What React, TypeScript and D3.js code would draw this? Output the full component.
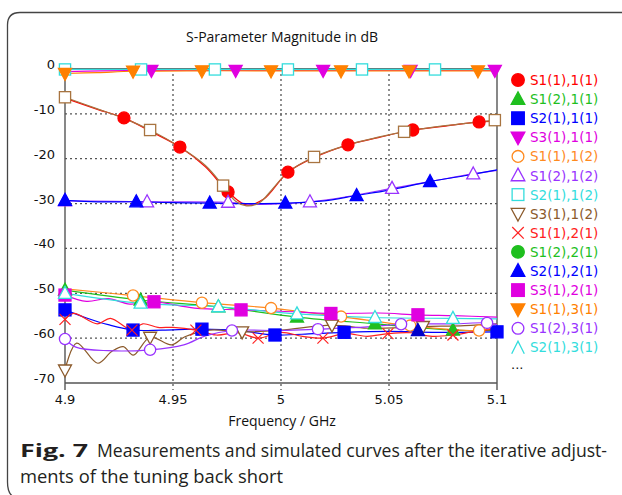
import React from "react";
import * as d3 from "d3";

// ---------- data ----------
const xTicks = [4.9, 4.95, 5, 5.05, 5.1];
const xTickLabels = ["4.9", "4.95", "5", "5.05", "5.1"];
const yTicks = [0, -10, -20, -30, -40, -50, -60, -70];
const yTickLabels = ["0", "-10", "-20", "-30", "-40", "-50", "-60", "-70"];

// S1(1),1(1) red filled circles
const s1111F = [4.9, 4.915, 4.9273, 4.94, 4.9532, 4.965, 4.9755, 4.984, 4.992, 5.0032, 5.015, 5.031, 5.045, 5.061, 5.075, 5.0917, 5.1];
const s1111V = [-6.5, -9.0, -10.9, -14.0, -17.4, -21.8, -27.4, -30.3, -29.0, -23.0, -19.8, -16.9, -15.3, -13.6, -12.8, -11.8, -11.6];
const s1111M = [4.9273, 4.9532, 4.9755, 5.0032, 5.031, 5.061, 5.0917];

// S1(2),1(1) green filled up-triangles
const s1211F = [4.9, 4.935, 4.971, 5.0074, 5.0435, 5.0796, 5.1];
const s1211V = [-49.3, -51.5, -53.0, -55.3, -56.8, -58.2, -58.3];
const s1211M = [4.9, 4.935, 4.971, 5.0074, 5.0435, 5.0796];

// S2(1),1(1) blue filled squares
const s2111F = [4.9, 4.91, 4.92, 4.9315, 4.945, 4.9634, 4.98, 4.9972, 5.015, 5.0292, 5.05, 5.07, 5.085, 5.1];
const s2111V = [-53.7, -55.5, -57.0, -58.2, -58.2, -58.0, -58.3, -59.3, -59.0, -58.7, -58.5, -58.7, -58.7, -58.6];
const s2111M = [4.9, 4.9315, 4.9634, 4.9972, 5.0292, 5.1];

// S3(1),1(1) magenta filled down-triangles
const s3111F = [4.9, 4.917, 4.94, 4.979, 5.0195, 5.06, 5.099];
const s3111V = [-0.6, -0.4, -0.3, -0.3, -0.3, -0.3, -0.3];
const s3111M = [4.94, 4.979, 5.0195, 5.06, 5.099];

// S1(1),1(2) orange open circles
const s1112F = [4.9, 4.9315, 4.9634, 4.9954, 5.0278, 5.0598, 5.0917, 5.1];
const s1112V = [-49.0, -50.5, -52.1, -53.3, -55.2, -57.2, -58.3, -57.4];
const s1112M = [4.9315, 4.9634, 4.9954, 5.0278, 5.0598, 5.0917];

// S1(2),1(2) purple open up-triangles
const s1212F = [4.9, 4.938, 4.9755, 4.99, 5.0134, 5.03, 5.0514, 5.07, 5.089, 5.1];
const s1212V = [-29.4, -29.6, -29.7, -30.2, -29.6, -28.5, -26.6, -25.0, -23.4, -22.6];
const s1212M = [4.9, 4.938, 4.9755, 5.0134, 5.0514, 5.089];

// S2(1),1(2) cyan open squares
const s2112F = [4.9, 4.9352, 4.9694, 5.0032, 5.0375, 5.0713, 5.1];
const s2112V = [-0.1, -0.1, -0.1, -0.1, -0.1, -0.1, -0.1];
const s2112M = [4.9, 4.9352, 4.9694, 5.0032, 5.0375, 5.0713];

// S3(1),1(2) brown open down-triangles
const s3112F = [4.9, 4.9054, 4.9152, 4.9216, 4.927, 4.9316, 4.9394, 4.9494, 4.9555, 4.9671, 4.982, 5.0, 5.0236, 5.04, 5.0657, 5.085, 5.1];
const s3112V = [-67.1, -61.1, -65.6, -63.0, -61.9, -63.8, -59.8, -61.5, -59.7, -58.2, -58.6, -58.2, -57.1, -57.8, -57.4, -57.2, -56.8];
const s3112M = [4.9, 4.9394, 4.982, 5.0236, 5.0657];

// S1(1),2(1) red crosses
const s1121F = [4.9, 4.904, 4.915, 4.921, 4.931, 4.936, 4.943, 4.95, 4.9606, 4.97, 4.98, 4.9894, 5.0, 5.01, 5.0194, 5.03, 5.04, 5.0495, 5.06, 5.07, 5.0796, 5.09, 5.1];
const s1121V = [-55.8, -54.5, -56.8, -55.6, -58.2, -56.8, -57.6, -57.6, -58.2, -59.3, -58.8, -60.0, -58.7, -59.6, -60.0, -59.0, -59.6, -59.0, -58.8, -59.6, -59.3, -58.5, -58.0];
const s1121M = [4.9, 4.931, 4.9606, 4.9894, 5.0194, 5.0495, 5.0796];

// S1(2),2(1) green filled circles (hidden behind other traces)
const s1221F: number[] = [];
const s1221V: number[] = [];
const s1221M: number[] = [];

// S2(1),2(1) blue filled up-triangles
const s2121F = [4.9, 4.915, 4.933, 4.95, 4.967, 4.985, 5.002, 5.02, 5.035, 5.05, 5.069, 5.085, 5.1];
const s2121V = [-29.3, -29.6, -29.6, -29.8, -29.9, -30.0, -29.9, -29.4, -28.2, -27.0, -25.1, -23.8, -22.5];
const s2121M = [4.9, 4.933, 4.967, 5.002, 5.035, 5.069];

// S3(1),2(1) magenta filled squares
const s3121F = [4.9, 4.91, 4.92, 4.93, 4.9412, 4.96, 4.9815, 5.0, 5.0231, 5.045, 5.0634, 5.08, 5.1];
const s3121V = [-50.4, -51.8, -51.2, -52.4, -51.9, -53.3, -53.7, -54.0, -54.5, -54.4, -54.8, -55.0, -55.3];
const s3121M = [4.9, 4.9412, 4.9815, 5.0231, 5.0634];

// S1(1),3(1) orange filled down-triangles
const s1131F = [4.9, 4.915, 4.9315, 4.9634, 4.9954, 5.0278, 5.0593, 5.0912, 5.1];
const s1131V = [-1.0, -0.8, -0.5, -0.4, -0.4, -0.4, -0.4, -0.4, -0.4];
const s1131M = [4.9, 4.9315, 4.9634, 4.9954, 5.0278, 5.0593, 5.0912];

// S1(2),3(1) purple open circles
const s1231F = [4.9, 4.905, 4.92, 4.9394, 4.955, 4.965, 4.9773, 5.0, 5.0171, 5.04, 5.0556, 5.08, 5.0954, 5.1];
const s1231V = [-60.2, -62.0, -62.8, -62.6, -61.5, -59.5, -58.3, -58.3, -58.0, -57.5, -56.9, -56.8, -56.6, -57.0];
const s1231M = [4.9, 4.9394, 4.9773, 5.0171, 5.0556, 5.0954];

// S2(1),3(1) cyan open up-triangles
const s2131F = [4.9, 4.935, 4.971, 5.0074, 5.0435, 5.0796, 5.1];
const s2131V = [-50.0, -52.2, -53.0, -54.6, -55.4, -55.6, -55.7];
const s2131M = [4.9, 4.935, 4.971, 5.0074, 5.0435, 5.0796];

// further traces (beyond "..." in legend)
const extraBrownF = [4.9, 4.915, 4.9273, 4.9394, 4.9532, 4.965, 4.9732, 4.979, 4.984, 4.99, 4.996, 5.0032, 5.0153, 5.031, 5.045, 5.057, 5.075, 5.0917, 5.099];
const extraBrownV = [-6.3, -8.9, -11.0, -13.6, -17.4, -21.5, -26.0, -29.5, -30.5, -29.8, -26.8, -23.0, -19.6, -16.9, -15.2, -14.0, -12.7, -11.8, -11.4];
const extraBrownM = [4.9, 4.9394, 4.9732, 5.0153, 5.057, 5.099];

const extraNavyF = [5.0634];
const extraNavyV = [-58.3];
const extraNavyM = [5.0634];

type Shape = "circle" | "triUp" | "square" | "triDown" | "cross" | "caret";
interface Series {
  name: string;
  color: string;
  shape: Shape;
  filled: boolean;
  f: number[];
  v: number[];
  m: number[];
  legend: boolean;
  line: boolean;
}

const series: Series[] = [
  { name: "S1(1),1(1)", color: "#ff0000", shape: "circle", filled: true, f: s1111F, v: s1111V, m: s1111M, legend: true, line: true },
  { name: "S1(2),1(1)", color: "#1fbf1f", shape: "triUp", filled: true, f: s1211F, v: s1211V, m: s1211M, legend: true, line: true },
  { name: "S2(1),1(1)", color: "#0000ff", shape: "square", filled: true, f: s2111F, v: s2111V, m: s2111M, legend: true, line: true },
  { name: "S3(1),1(1)", color: "#e000e0", shape: "triDown", filled: true, f: s3111F, v: s3111V, m: s3111M, legend: true, line: true },
  { name: "S1(1),1(2)", color: "#ff8a1f", shape: "circle", filled: false, f: s1112F, v: s1112V, m: s1112M, legend: true, line: true },
  { name: "S1(2),1(2)", color: "#9933ff", shape: "triUp", filled: false, f: s1212F, v: s1212V, m: s1212M, legend: true, line: true },
  { name: "S2(1),1(2)", color: "#33dddd", shape: "square", filled: false, f: s2112F, v: s2112V, m: s2112M, legend: true, line: true },
  { name: "S3(1),1(2)", color: "#8b5a2b", shape: "triDown", filled: false, f: s3112F, v: s3112V, m: s3112M, legend: true, line: true },
  { name: "S1(1),2(1)", color: "#ff2020", shape: "cross", filled: false, f: s1121F, v: s1121V, m: s1121M, legend: true, line: true },
  { name: "S1(2),2(1)", color: "#1fbf1f", shape: "circle", filled: true, f: s1221F, v: s1221V, m: s1221M, legend: true, line: true },
  { name: "S2(1),2(1)", color: "#0000ff", shape: "triUp", filled: true, f: s2121F, v: s2121V, m: s2121M, legend: true, line: true },
  { name: "S3(1),2(1)", color: "#e000e0", shape: "square", filled: true, f: s3121F, v: s3121V, m: s3121M, legend: true, line: true },
  { name: "S1(1),3(1)", color: "#ff8000", shape: "triDown", filled: true, f: s1131F, v: s1131V, m: s1131M, legend: true, line: true },
  { name: "S1(2),3(1)", color: "#9933ff", shape: "circle", filled: false, f: s1231F, v: s1231V, m: s1231M, legend: true, line: true },
  { name: "S2(1),3(1)", color: "#33dddd", shape: "triUp", filled: false, f: s2131F, v: s2131V, m: s2131M, legend: true, line: true },
  { name: "extra1", color: "#a87440", shape: "square", filled: false, f: extraBrownF, v: extraBrownV, m: extraBrownM, legend: false, line: true },
  { name: "extra2", color: "#0000cc", shape: "triUp", filled: true, f: extraNavyF, v: extraNavyV, m: extraNavyM, legend: false, line: false },
];

// ---------- layout ----------
const W = 622;
const H = 495;
const PL = 65, PR = 497, PT = 69, PB = 383;

function Marker({ shape, x, y, color, filled, s = 1 }: { shape: Shape; x: number; y: number; color: string; filled: boolean; s?: number }) {
  const fill = filled ? color : "#ffffff";
  const sw = 1.3;
  switch (shape) {
    case "circle":
      return <circle cx={x} cy={y} r={(filled ? 6 : 5.6) * s} fill={fill} stroke={color} strokeWidth={sw} />;
    case "square": {
      const h = (filled ? 6 : 5.6) * s;
      return <rect x={x - h} y={y - h} width={2 * h} height={2 * h} fill={fill} stroke={color} strokeWidth={sw} />;
    }
    case "triUp": {
      const a = 6.5 * s, t = 7 * s, b = 5 * s;
      return <polygon points={`${x},${y - t} ${x + a},${y + b} ${x - a},${y + b}`} fill={fill} stroke={color} strokeWidth={sw} />;
    }
    case "triDown": {
      const a = 6.5 * s, t = 7 * s, b = 5 * s;
      return <polygon points={`${x},${y + t} ${x + a},${y - b} ${x - a},${y - b}`} fill={fill} stroke={color} strokeWidth={sw} />;
    }
    case "cross": {
      const c = 5.5 * s;
      return (
        <g stroke={color} strokeWidth={1.2}>
          <line x1={x - c} y1={y - c} x2={x + c} y2={y + c} />
          <line x1={x - c} y1={y + c} x2={x + c} y2={y - c} />
        </g>
      );
    }
    case "caret": {
      const c = 6 * s;
      return <polyline points={`${x - c},${y + c} ${x},${y - c} ${x + c},${y + c}`} fill="none" stroke={color} strokeWidth={sw} />;
    }
  }
  return null;
}

export default function App() {
  const x = d3.scaleLinear().domain([4.9, 5.1]).range([PL, PR]);
  const y = d3.scaleLinear().domain([-70, 0]).range([PB, PT]);
  const lineGen = d3
    .line<[number, number]>()
    .x((d) => x(d[0]))
    .y((d) => y(d[1]))
    .curve(d3.curveCatmullRom.alpha(0.5));

  const gridColor = "#555";
  const tickFont = "'DejaVu Sans', Verdana, sans-serif";
  const uiFont = "'Open Sans', 'Noto Sans', sans-serif";

  const legendY0 = 80;
  const legendDy = 19.1;
  const legendItems = series.filter((s) => s.legend);

  return (
    <svg width={W} height={H} style={{ position: "absolute", left: 0, top: 0, background: "#fff" }}>
      {/* outer frame */}
      <path d={`M ${W + 5} 12.5 L 20 12.5 Q 7.5 12.5 7.5 25 L 7.5 482 Q 7.5 494 14 497`} fill="none" stroke="#444" strokeWidth={1.3} />

      {/* title */}
      <text x={282} y={42} textAnchor="middle" fontFamily={uiFont} fontSize={14} fill="#111">
        S-Parameter Magnitude in dB
      </text>

      {/* grid */}
      {yTicks
        .filter((t) => t !== 0 && t !== -70)
        .map((t) => (
          <line key={"gy" + t} x1={PL} x2={PR} y1={y(t)} y2={y(t)} stroke={gridColor} strokeWidth={1.3} strokeDasharray="2,3" />
        ))}
      {xTicks
        .filter((t) => t !== 4.9 && t !== 5.1)
        .map((t) => (
          <line key={"gx" + t} x1={x(t)} x2={x(t)} y1={PT} y2={PB + 7} stroke={gridColor} strokeWidth={1.3} strokeDasharray="2,3" />
        ))}

      {/* axes frame */}
      <line x1={PL} x2={PR} y1={PT} y2={PT} stroke="#333" strokeWidth={1.4} />
      <line x1={PL} x2={PR} y1={PB} y2={PB} stroke="#555" strokeWidth={1.4} />
      <line x1={PL} x2={PL} y1={PT} y2={PB + 7} stroke="#555" strokeWidth={1.4} />
      <line x1={PR} x2={PR} y1={PT} y2={PB + 7} stroke="#555" strokeWidth={1.4} />

      {/* y tick labels */}
      {yTicks.map((t, i) => (
        <text key={"yl" + t} x={55} y={y(t)} textAnchor="end" fontFamily={tickFont} fontSize={13} fill="#111">
          {yTickLabels[i]}
        </text>
      ))}
      {/* x tick labels */}
      {xTicks.map((t, i) => (
        <text key={"xl" + t} x={x(t)} y={404} textAnchor="middle" fontFamily={tickFont} fontSize={13} fill="#111">
          {xTickLabels[i]}
        </text>
      ))}
      <text x={282} y={426} textAnchor="middle" fontFamily={uiFont} fontSize={14} fill="#111">
        Frequency / GHz
      </text>

      {/* lines */}
      {series.map((s) =>
        s.line && s.f.length > 1 ? (
          <path
            key={"l" + s.name}
            d={lineGen(s.f.map((f, i) => [f, s.v[i]] as [number, number])) || ""}
            fill="none"
            stroke={s.color}
            strokeWidth={1.2}
          />
        ) : null
      )}

      {/* markers */}
      {series.map((s) =>
        s.m.map((mf, j) => {
          let idx = 0;
          let best = Infinity;
          s.f.forEach((f, i) => {
            const d = Math.abs(f - mf);
            if (d < best) {
              best = d;
              idx = i;
            }
          });
          return <Marker key={"m" + s.name + j} shape={s.shape} x={x(s.f[idx])} y={y(s.v[idx])} color={s.color} filled={s.filled} />;
        })
      )}

      {/* legend */}
      {legendItems.map((s, i) => {
        const cy = legendY0 + i * legendDy;
        const shape: Shape = s.name === "S2(1),3(1)" ? "caret" : s.shape;
        return (
          <g key={"lg" + s.name}>
            <Marker shape={shape} x={518} y={cy} color={s.color} filled={s.filled} s={1.05} />
            <text x={530} y={cy + 5} fontFamily={tickFont} fontSize={13.5} fill={s.color}>
              {s.name}
            </text>
          </g>
        );
      })}
      <text x={511} y={legendY0 + legendItems.length * legendDy + 2} fontFamily={tickFont} fontSize={13} fill="#111">
        ...
      </text>

      {/* caption */}
      <text x={20} y={457} fontFamily={uiFont} fontSize={18} fontWeight="bold" fill="#231f20" textLength={68} lengthAdjust="spacingAndGlyphs">
        Fig. 7
      </text>
      <text x={97} y={457} fontFamily={uiFont} fontSize={18} fill="#231f20" textLength={510} lengthAdjust="spacingAndGlyphs">
        Measurements and simulated curves after the iterative adjust-
      </text>
      <text x={20} y={483} fontFamily={uiFont} fontSize={18} fill="#231f20" textLength={263} lengthAdjust="spacingAndGlyphs">
        ments of the tuning back short
      </text>
    </svg>
  );
}
